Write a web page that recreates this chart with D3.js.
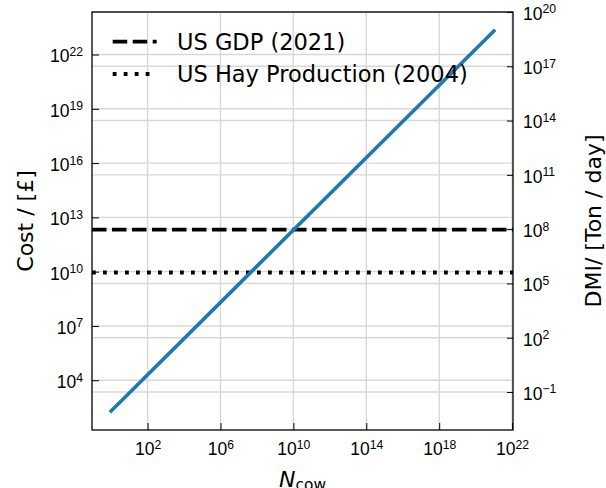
<!DOCTYPE html>
<html>
<head>
<meta charset="utf-8">
<script src="https://cdn.jsdelivr.net/npm/d3@7"></script>
<style>
  html, body { margin: 0; padding: 0; background: #fff; }
  svg { display: block; font-family: "DejaVu Sans", sans-serif; }
</style>
</head>
<body>
<svg id="chart" width="606" height="488"></svg>
<script>
// cost of feeding N cows (straight line in log-log)
const nCow = [1e0, 1e21];
const cost = [2.0e2, 2.0e23];

// reference levels drawn as horizontal lines
const refLabels = ["US GDP (2021)", "US Hay Production (2004)"];
const refValues = [2.1e12, 9.0e9];

// tick exponents
const xTickExp = [2, 6, 10, 14, 18, 22];
const costTickExp = [4, 7, 10, 13, 16, 19, 22];
const dmiTickExp = [-1, 2, 5, 8, 11, 14, 17, 20];

const margin = {left: 92, top: 12, right: 93, bottom: 58};
const W = 606 - margin.left - margin.right,
  H = 488 - margin.top - margin.bottom;

const refStyles = [
  {width: 3.8, dash: "14.5,5.5"},
  {width: 3.8, dash: "3.8,7.2"}
];

const svg = d3.select("#chart");
svg.append("rect").attr("width", 606).attr("height", 488).attr("fill", "#fff");

const g = svg.append("g").attr("transform", `translate(${margin.left},${margin.top})`);

const x = d3.scaleLog().domain([10 ** -1.05, 10 ** 22.05]).range([0, W]);
const yL = d3.scaleLog().domain([10 ** 1.25, 10 ** 24.35]).range([H, 0]);
const yR = d3.scaleLog().domain([10 ** -3.1, 10 ** 20]).range([H, 0]);

const pow10 = e => 10 ** e;
const fmtExp = e => (e < 0 ? "\u2212" + -e : "" + e);

g.append("clipPath")
  .attr("id", "plotClip")
  .append("rect")
  .attr("width", W)
  .attr("height", H);

// grid
const grid = g.append("g").attr("stroke", "#d8d8d8").attr("stroke-width", 1.4);
grid
  .selectAll("line.gx")
  .data(xTickExp.map(pow10))
  .join("line")
  .attr("class", "gx")
  .attr("x1", d => x(d))
  .attr("x2", d => x(d))
  .attr("y1", 0)
  .attr("y2", H);
grid
  .selectAll("line.gl")
  .data(costTickExp.map(pow10))
  .join("line")
  .attr("class", "gl")
  .attr("x1", 0)
  .attr("x2", W)
  .attr("y1", d => yL(d))
  .attr("y2", d => yL(d));
grid
  .selectAll("line.gr")
  .data(dmiTickExp.map(pow10))
  .join("line")
  .attr("class", "gr")
  .attr("x1", 0)
  .attr("x2", W)
  .attr("y1", d => yR(d))
  .attr("y2", d => yR(d));

// data
const plot = g.append("g").attr("clip-path", "url(#plotClip)");
const line = d3
  .line()
  .x(d => x(d[0]))
  .y(d => yL(d[1]));

plot
  .selectAll("path.ref")
  .data(refValues)
  .join("path")
  .attr("class", "ref")
  .attr("d", v => line(x.domain().map(n => [n, v])))
  .attr("fill", "none")
  .attr("stroke", "#000")
  .attr("stroke-width", (v, i) => refStyles[i].width)
  .attr("stroke-dasharray", (v, i) => refStyles[i].dash);

// blue line sits above the reference lines
plot
  .append("path")
  .datum(d3.zip(nCow, cost))
  .attr("d", line)
  .attr("fill", "none")
  .attr("stroke", "#1f77b4")
  .attr("stroke-width", 3.6)
  .attr("stroke-linecap", "square");

// axes (inward ticks, labels drawn as 10^n)
function powLabels(sel, exps, anchor, dx, dy) {
  sel.selectAll(".tick text").remove();
  sel.selectAll(".tick").each(function (d, i) {
    const t = d3
      .select(this)
      .append("text")
      .attr("fill", "#000")
      .attr("text-anchor", anchor)
      .attr("x", dx)
      .attr("y", dy)
      .attr("font-size", 17.5);
    t.append("tspan").text("10");
    t.append("tspan").attr("dy", -6.5).attr("font-size", 12.2).text(fmtExp(exps[i]));
  });
}

const axB = g
  .append("g")
  .attr("transform", `translate(0,${H})`)
  .call(d3.axisBottom(x).tickValues(xTickExp.map(pow10)).tickSize(-7).tickFormat(""));
powLabels(axB, xTickExp, "middle", 0, 25);

const axL = g.append("g").call(d3.axisLeft(yL).tickValues(costTickExp.map(pow10)).tickSize(-7).tickFormat(""));
powLabels(axL, costTickExp, "end", -9, 7.4);

const axR = g
  .append("g")
  .attr("transform", `translate(${W},0)`)
  .call(d3.axisRight(yR).tickValues(dmiTickExp.map(pow10)).tickSize(-6).tickFormat(""));
powLabels(axR, dmiTickExp, "start", 10, 7.4);

[axB, axL, axR].forEach(a => {
  a.select(".domain").remove();
  a.selectAll(".tick line").attr("stroke", "#000").attr("stroke-width", 1);
});

// spines
g.append("rect")
  .attr("width", W)
  .attr("height", H)
  .attr("fill", "none")
  .attr("stroke", "#000")
  .attr("stroke-width", 1.3);

// axis titles
svg
  .append("text")
  .attr("transform", `translate(33,${margin.top + H / 2}) rotate(-90)`)
  .attr("text-anchor", "middle")
  .attr("font-size", 22)
  .text("Cost / [£]");

svg
  .append("text")
  .attr("transform", `translate(601,${margin.top + H / 2}) rotate(-90)`)
  .attr("text-anchor", "middle")
  .attr("font-size", 22)
  .text("DMI/ [Ton / day]");

const xl = svg
  .append("text")
  .attr("x", margin.left + W / 2)
  .attr("y", 487)
  .attr("text-anchor", "middle")
  .attr("font-size", 22);
xl.append("tspan").attr("font-style", "italic").text("N");
xl.append("tspan").attr("font-size", 15.4).attr("dy", 3).text("cow");

// legend (no frame)
const legend = svg.append("g").attr("transform", "translate(112.7,41.7)");
const rows = legend
  .selectAll("g")
  .data(refLabels)
  .join("g")
  .attr("transform", (d, i) => `translate(0,${i * 32.3})`);
rows
  .append("line")
  .attr("x1", 0)
  .attr("x2", 44)
  .attr("stroke", "#000")
  .attr("stroke-width", (d, i) => refStyles[i].width)
  .attr("stroke-dasharray", (d, i) => refStyles[i].dash);
rows
  .append("text")
  .attr("x", 64.3)
  .attr("y", 8.3)
  .attr("font-size", 22.5)
  .text(d => d);
</script>
</body>
</html>
